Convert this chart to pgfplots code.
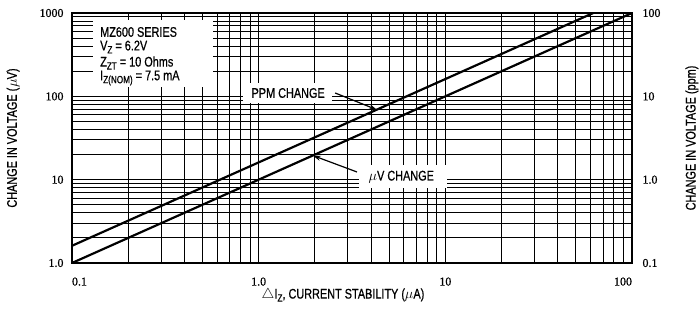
\documentclass[border=0pt]{standalone}
\usepackage{pgfplots}
\pgfplotsset{compat=1.18}
\usepackage{fontspec}
\setmainfont{Liberation Sans}[FakeStretch=0.78, FakeBold=0.6]
\newfontfamily\tickfont{Liberation Serif}[FakeBold=0.5]
\usetikzlibrary{arrows.meta}
\newcommand{\lblfont}{\fontsize{14}{14}\selectfont}
\newcommand{\sub}[1]{\raisebox{-3bp}{\fontsize{10.5}{10.5}\selectfont #1}}
\begin{document}
\begin{tikzpicture}
\useasboundingbox (-72bp,-73bp) rectangle (628bp,263bp);
\begin{axis}[
  scale only axis, width=560bp, height=250bp,
  at={(0,0)}, anchor=south west,
  xmode=log, ymode=log,
  xmin=0.1, xmax=100, ymin=1, ymax=1000,
  xtick={0.1,1,10,100}, xticklabels={\rlap{0.1},1.0,10,\llap{100}},
  ytick={1,10,100,1000}, yticklabels={1.0,10,100,1000},
  grid=both,
  major grid style={black, line width=1.2pt},
  minor grid style={black, line width=1.0pt},
  axis line style={black, line width=1.2pt},
  major tick length=0pt, minor tick length=0pt,
  /pgf/number format/assume math mode=true,
  ticklabel style={font=\tickfont\fontsize{12}{12}\selectfont},
  xticklabel style={yshift=-11bp},
  yticklabel style={xshift=-5bp},
  ylabel={CHANGE IN VOLTAGE ($\mu$V)},
  ylabel style={at={(axis description cs:-0.105,0.5)}, anchor=center, font=\lblfont},
  xlabel={$\triangle$I\sub{Z}, CURRENT STABILITY ($\mu$A)},
  xlabel style={at={(axis description cs:0.484,-0.128)}, anchor=center, font=\lblfont},
]
\addplot[black, line width=2.2pt] coordinates {(0.1,1) (100,1000)};
% info box
\fill[white] (rel axis cs:0.0375,0.704) rectangle (rel axis cs:0.2518,0.972);
\node[anchor=west, font=\lblfont, inner sep=0pt] at (rel axis cs:0.05,0.924) {MZ600 SERIES};
\node[anchor=west, font=\lblfont, inner sep=0pt] at (rel axis cs:0.05,0.864) {V\sub{Z} = 6.2V};
\node[anchor=west, font=\lblfont, inner sep=0pt] at (rel axis cs:0.05,0.800) {Z\sub{ZT} = 10 Ohms};
\node[anchor=west, font=\lblfont, inner sep=0pt] at (rel axis cs:0.05,0.740) {I\sub{Z(NOM)} = 7.5 mA};
% PPM label
\fill[white] (rel axis cs:0.305,0.64) rectangle (rel axis cs:0.464,0.72);
\node[font=\lblfont, inner sep=0pt] at (rel axis cs:0.386,0.68) {PPM CHANGE};
\draw[-{Stealth[length=8bp,width=5bp]}, line width=1.2pt] (rel axis cs:0.47,0.68) -- (axis cs:4.3,69);
% uV label
\fill[white] (rel axis cs:0.5125,0.30) rectangle (rel axis cs:0.67,0.392);
\node[font=\lblfont, inner sep=0pt] at (rel axis cs:0.588,0.344) {$\mu$V CHANGE};
\draw[-{Stealth[length=8bp,width=5bp]}, line width=1.2pt] (rel axis cs:0.509,0.364) -- (axis cs:1.95,19.5);
\end{axis}
\begin{axis}[
  scale only axis, width=560bp, height=250bp,
  at={(0,0)}, anchor=south west,
  xmode=log, ymode=log,
  xmin=0.1, xmax=100, ymin=0.1, ymax=100,
  axis x line=none, axis y line*=right,
  ytick={0.1,1,10,100}, yticklabels={0.1,1.0,10,100},
  axis line style={black, line width=1.2pt},
  major tick length=0pt, minor tick length=0pt,
  /pgf/number format/assume math mode=true,
  ticklabel style={font=\tickfont\fontsize{12}{12}\selectfont},
  yticklabel style={xshift=7bp},
  ylabel={CHANGE IN VOLTAGE (ppm)},
  ylabel style={at={(axis description cs:1.107,0.5)}, anchor=center, rotate=0, font=\lblfont},
]
\addplot[black, line width=2.2pt] coordinates {(0.1,0.161) (62,100)};
\end{axis}
\end{tikzpicture}
\end{document}
